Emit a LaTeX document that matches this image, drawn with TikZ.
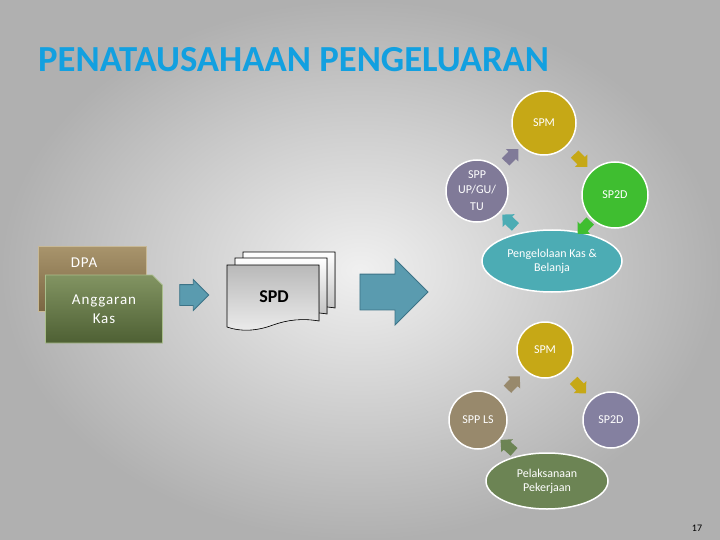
\documentclass[tikz,border=0pt]{standalone}
\usepackage{fontspec}
\setmainfont{Carlito}
\usetikzlibrary{shapes.arrows,shapes.misc,shapes.geometric,positioning}

\definecolor{titleblue}{RGB}{18,160,224}
\definecolor{bginner}{RGB}{240,240,240}
\definecolor{bgouter}{RGB}{176,176,176}
\definecolor{spmyellow}{RGB}{198,168,22}
\definecolor{sp2dgreen}{RGB}{63,190,48}
\definecolor{spppurple}{RGB}{128,122,152}
\definecolor{kasteal}{RGB}{76,172,180}
\definecolor{sp2dpurple}{RGB}{132,128,160}
\definecolor{sppbrown}{RGB}{152,137,108}
\definecolor{kerjagreen}{RGB}{108,132,84}
\definecolor{arrowblue}{RGB}{90,155,175}
\definecolor{arrowedge}{RGB}{60,115,135}
\definecolor{dpatop}{RGB}{168,148,108}
\definecolor{dpabottom}{RGB}{122,102,66}
\definecolor{dpaline}{RGB}{200,185,150}
\definecolor{kastop}{RGB}{130,148,98}
\definecolor{kasbottom}{RGB}{78,96,52}
\definecolor{kasline}{RGB}{170,190,140}

% one sheet of the SPD stack, drawn from its top left corner
\newcommand{\sheetpath}{(0,0) -- (92,0) -- (92,56)
  .. controls (75,53) and (60,55) .. (46,60)
  .. controls (30,66) and (14,67) .. (0,62) -- cycle}

\begin{document}
\begin{tikzpicture}[x=1pt,y=-1pt,
    stage/.style={circle,draw=white,line width=1.5pt,text=white,inner sep=0pt,
      align=center,font=\fontsize{12}{15}\selectfont},
    stageoval/.style={ellipse,draw=white,line width=1.5pt,text=white,inner sep=0pt,
      align=center,font=\fontsize{12}{14}\selectfont},
    cyclearrow/.style={single arrow,single arrow head extend=3.5pt,minimum height=18pt,
      inner xsep=0pt,inner ysep=5pt,sloped,allow upside down,fill=#1},
    blockarrow/.style={single arrow,fill=arrowblue,draw=arrowedge,line width=0.8pt,inner xsep=0pt},
    snipbox/.style={chamfered rectangle,chamfered rectangle corners=north east,
      draw=#1,line width=0.8pt,inner sep=0pt},
    boxtext/.style={text=white,align=center,
      font=\fontsize{15}{19}\selectfont\addfontfeature{LetterSpace=6}}
  ]
  \useasboundingbox (0,0) rectangle (720,540);
  \shade[inner color=bginner,outer color=bgouter] (0,0) rectangle (720,540);

  \node[anchor=base west,inner sep=0pt,text=titleblue,font=\fontsize{36.7}{42}\bfseries]
    (title) at (38,72) {PENATAUSAHAAN PENGELUARAN};

  % budget documents
  \node[snipbox=dpaline,chamfered rectangle xsep=9pt,top color=dpatop,bottom color=dpabottom,
    minimum width=108pt,minimum height=65pt] (dpa) at (92,279) {};
  \node[boxtext] (dpalabel) at (84,263) {DPA};
  \node[snipbox=kasline,chamfered rectangle xsep=7pt,top color=kastop,bottom color=kasbottom,
    minimum width=117pt,minimum height=68pt,boxtext] (angkas) at (104,309) {Anggaran\\Kas};

  \node[blockarrow,minimum height=29pt,inner ysep=10pt,single arrow head extend=5pt]
    (tospd) at (189,295) {};

  % SPD stack
  \begin{scope}[shift={(243,252)}]
    \filldraw[draw=black,line width=0.6pt,top color=white,bottom color=gray!55] \sheetpath;
  \end{scope}
  \begin{scope}[shift={(235,258)}]
    \filldraw[draw=black,line width=0.6pt,top color=white,bottom color=gray!55] \sheetpath;
  \end{scope}
  \begin{scope}[shift={(227,265)}]
    \filldraw[draw=black,line width=0.6pt,top color=gray!55,bottom color=gray!15] \sheetpath;
  \end{scope}
  \node[font=\fontsize{18}{20}\bfseries] (spd) at (274,297) {SPD};

  \node[blockarrow,minimum height=68pt,inner ysep=17.5pt,single arrow head extend=15pt]
    (tocycle) at (385,292) {};

  % cycle UP/GU/TU
  \node[stage,fill=spmyellow,minimum size=64pt] (spm1) at (544,123) {SPM};
  \node[stage,fill=sp2dgreen,minimum size=66pt] (sp2d1) at (615,195) {SP2D};
  \node[stage,fill=spppurple,minimum size=62pt] (spp1) at (477,191) {SPP\\UP/GU/\\[2pt]TU};
  \node[stageoval,fill=kasteal,minimum width=140pt,minimum height=62pt] (kas) at (552,261)
    {Pengelolaan Kas \&\\Belanja};
  \path (spp1) -- node[cyclearrow=spppurple] {} (spm1);
  \path (spm1) -- node[cyclearrow=spmyellow] {} (sp2d1);
  \path (sp2d1) -- node[cyclearrow=sp2dgreen] {} (kas);
  \path (kas) -- node[cyclearrow=kasteal] {} (spp1);

  % cycle LS
  \node[stage,fill=spmyellow,minimum size=56pt] (spm2) at (545,350) {SPM};
  \node[stage,fill=sp2dpurple,minimum size=56pt] (sp2d2) at (611,420) {SP2D};
  \node[stage,fill=sppbrown,minimum size=58pt] (spp2) at (478,420) {SPP LS};
  \node[stageoval,fill=kerjagreen,minimum width=122pt,minimum height=56pt] (kerja) at (547,481)
    {Pelaksanaan\\Pekerjaan};
  \path (spp2) -- node[cyclearrow=sppbrown] {} (spm2);
  \path (spm2) -- node[cyclearrow=spmyellow] {} (sp2d2);
  \path (kerja) -- node[cyclearrow=kerjagreen] {} (spp2);

  \node[font=\fontsize{10}{12}\selectfont] (pagenum) at (697,528) {17};
\end{tikzpicture}
\end{document}
